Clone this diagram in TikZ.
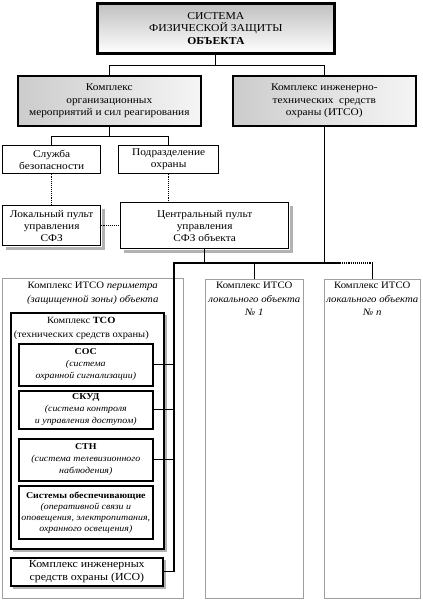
\documentclass[tikz,border=0pt]{standalone}
\usepackage{fontspec}
\setmainfont{Liberation Serif}[FakeStretch=1.1]
\usetikzlibrary{positioning, calc}
\tikzset{
    % Node Styles
    box/.style={
        rectangle, draw=black, anchor=north west, inner sep=1pt,
        align=center, font=\fontsize{10.3}{12}\selectfont
    },
    headbox/.style={box, line width=2.8pt, font=\fontsize{10.6}{12.5}\selectfont,
        top color=gray!50, bottom color=white},
    groupbox/.style={box, line width=1.6pt, font=\fontsize{10.3}{12.5}\selectfont,
        left color=gray!40, right color=gray!8},
    unitbox/.style={box, line width=1.3pt, fill=white},
    zonebox/.style={rectangle, draw=gray!75, line width=0.6pt, anchor=north west},
    tsobox/.style={rectangle, draw=black, line width=1.6pt, anchor=north west, fill=white},
    sysbox/.style={box, line width=1.6pt, fill=white, font=\fontsize{9}{12}\selectfont},
    title/.style={anchor=north, align=center, inner sep=1pt, font=\fontsize{9.8}{13.5}\selectfont},
    shadowfill/.style={fill=gray!60},
    % Arrow Styles
    link/.style={line width=1.1pt},
    dotlink/.style={line width=1.1pt, densely dotted}
}
\begin{document}
\begin{tikzpicture}[x=1pt, y=-1pt]
    \useasboundingbox (0,0) rectangle (423,600);

    % --- 1. Top level ---
    \node [headbox, minimum width=237pt, minimum height=50pt] (sfz) at (96,2)
        {СИСТЕМА\\ФИЗИЧЕСКОЙ ЗАЩИТЫ\\\textbf{ОБЪЕКТА}};

    % --- 2. Two complexes ---
    \node [groupbox, minimum width=183pt, minimum height=50pt] (org) at (17,75)
        {Комплекс\\организационных\\мероприятий и сил реагирования};
    \node [groupbox, minimum width=183pt, minimum height=50pt] (itso) at (232,75)
        {Комплекс инженерно-\\технических\ \ средств\\охраны (ИТСО)};

    \coordinate (fork1) at ($(sfz.south)+(0,11)$);
    \draw [link] (sfz.south) -- (fork1);
    \draw [link] (org.north) |- (fork1) -| (itso.north);

    % --- 3. Services ---
    \node [unitbox, minimum width=98pt, minimum height=28pt] (sb) at (2,145)
        {Служба\\безопасности};
    \node [unitbox, minimum width=100pt, minimum height=28pt] (po) at (118,145)
        {Подразделение\\охраны};

    \coordinate (fork2) at ($(org.south)+(0,10)$);
    \draw [link] (org.south) -- (fork2);
    \draw [link] (sb.north) |- (fork2) -| (po.north);

    % --- 4. Control desks ---
    \node [unitbox, minimum width=98pt, minimum height=40pt] (lp) at (2,205)
        {Локальный пульт\\управления\\СФЗ};
    \node [unitbox, minimum width=168pt, minimum height=46pt] (cp) at (120,202)
        {Центральный пульт\\управления\\СФЗ объекта};

    % --- 5. Object complexes ---
    \node [zonebox, minimum width=181pt, minimum height=320pt] (zone) at (2,278) {};
    \node [title] (zonetitle) at ([yshift=-3pt]zone.north)
        {Комплекс ИТСО \textit{периметра}\\\textit{(защищенной зоны) объекта}};
    \node [zonebox, minimum width=98pt, minimum height=319pt] (n1) at (205,279) {};
    \node [title] (n1title) at ([yshift=-2pt]n1.north)
        {Комплекс ИТСО\\\textit{локального объекта}\\\textit{№ 1}};
    \node [zonebox, minimum width=96pt, minimum height=319pt] (nn) at (324,279) {};
    \node [title] (nntitle) at ([yshift=-2pt]nn.north)
        {Комплекс ИТСО\\\textit{локального объекта}\\\textit{№ n}};

    % TSO complex with its systems
    \node [tsobox, minimum width=153pt, minimum height=236pt] (tso) at (10,312) {};
    \node [title, font=\fontsize{9.5}{14}\selectfont] (tsotitle) at ([xshift=-6pt, yshift=-4pt]tso.north)
        {Комплекс \textbf{ТСО}\\(технических средств охраны)};
    \node [sysbox, minimum width=134pt, minimum height=42pt] (sos) at (18,343)
        {\textbf{СОС}\\\textit{(система}\\\textit{охранной сигнализации)}};
    \node [sysbox, minimum width=134pt, minimum height=38pt] (skud) at (18,390)
        {\textbf{СКУД}\\\textit{(система контроля}\\\textit{и управления доступом)}};
    \node [sysbox, minimum width=134pt, minimum height=42pt] (stn) at (18,438)
        {\textbf{СТН}\\\textit{(система телевизионного}\\\textit{наблюдения)}};
    \node [sysbox, minimum width=134pt, minimum height=53pt, font=\fontsize{9}{11}\selectfont] (sys) at (18,485)
        {\textbf{Системы обеспечивающие}\\\textit{(оперативной связи и}\\\textit{оповещения, электропитания,}\\\textit{охранного освещения)}};
    \node [tsobox, box, minimum width=152pt, minimum height=28pt, font=\fontsize{10.8}{13}\selectfont] (iso) at (10,557)
        {Комплекс инженерных\\средств охраны (ИСО)};

    % Shadows: strips along the right and bottom edges
    \foreach \n/\w in {lp/4, cp/4, tso/2.5, iso/2.5} {
        \fill [shadowfill] (\n.north east) ++(0.7,\w) rectangle ($(\n.south east)+(\w,\w)$);
        \fill [shadowfill] (\n.south west) ++(\w,0.7) rectangle ($(\n.south east)+(\w,\w)$);
    }

    % Dotted links between services and desks
    \draw [dotlink] (sb.south) -- (lp.north);
    \draw [dotlink] (po.south) -- (po.south |- cp.north);
    \draw [dotlink] (lp.east) -- (lp.east -| cp.west);

    % --- 6. Bus to object complexes ---
    \coordinate (busL) at (174,263);
    \coordinate (busD) at (340,263);
    \draw [link] (busL |- iso.east) -- (busL) -- (busD);
    \draw [dotlink] (busD) -- (busD -| nn.north);
    \draw [link] (cp.south) -- (cp.south |- busL);
    \draw [link] (itso.south) -- (itso.south |- busL);
    \draw [link] (n1.north) -- (n1.north |- busL);
    \draw [link] (nn.north) -- (nn.north |- busL);
    \foreach \s in {sos, skud, stn, iso}
        \draw [link] (\s.east) -- (\s.east -| busL);

\end{tikzpicture}
\end{document}
